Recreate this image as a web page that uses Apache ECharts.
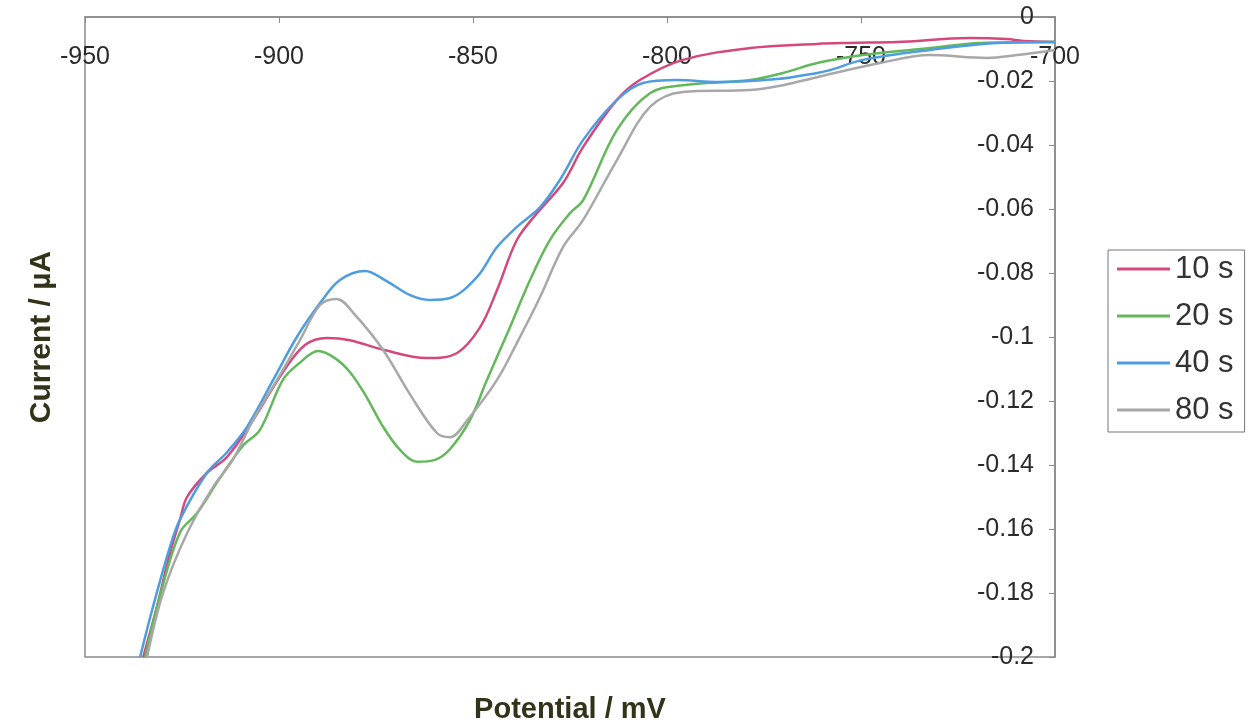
<!DOCTYPE html>
<html>
<head>
<meta charset="utf-8">
<title>Current vs Potential</title>
<script src="https://cdn.jsdelivr.net/npm/echarts@6/dist/echarts.min.js"></script>
<style>
  html, body { margin: 0; padding: 0; background: #fff; }
  #main { width: 1252px; height: 726px; }
</style>
</head>
<body>
<div id="main"></div>
<script>
// series names (legend)
var seriesNames = ['10 s', '20 s', '40 s', '80 s'];

// potential (mV) / current (µA)
var pot10 = [-935.0, -931.4, -928.1, -925.5, -923.7, -918.6, -913.4, -906.7, -899.0, -893.3, -887.6, -881.7, -873.2, -861.9, -854.1, -848.2, -843.8, -838.7, -833.5, -826.8, -821.6, -812.9, -807.0, -795.9, -778.6, -761.3, -752.8, -740.7, -721.9, -712.4, -708.2, -700];
var cur10 = [-0.2, -0.184, -0.1675, -0.157, -0.150, -0.1425, -0.1375, -0.126, -0.111, -0.1025, -0.1003, -0.101, -0.104, -0.1066, -0.105, -0.097, -0.0853, -0.0697, -0.0613, -0.0519, -0.0406, -0.0259, -0.0197, -0.0134, -0.0097, -0.0084, -0.0081, -0.0078, -0.0066, -0.0069, -0.0075, -0.0078];

var pot20 = [-934.5, -930.7, -925.5, -921.1, -915.2, -909.3, -904.9, -899.0, -894.6, -889.9, -885.6, -881.7, -877.8, -873.2, -868.8, -864.4, -859.8, -855.9, -850.8, -846.4, -841.2, -835.3, -830.2, -825.0, -821.6, -812.9, -804.4, -795.9, -778.6, -770.1, -761.3, -749.5, -732.2, -719.3, -700];
var cur20 = [-0.2, -0.181, -0.161, -0.155, -0.144, -0.134, -0.129, -0.1134, -0.108, -0.1044, -0.1066, -0.111, -0.118, -0.128, -0.1353, -0.139, -0.1384, -0.135, -0.126, -0.1134, -0.099, -0.0822, -0.0697, -0.0613, -0.0572, -0.0353, -0.0238, -0.0213, -0.0197, -0.0175, -0.0144, -0.0119, -0.0097, -0.0081, -0.0078];

var pot40 = [-935.8, -932.5, -928.1, -925.5, -918.6, -913.4, -908.2, -901.5, -895.4, -889.4, -884.3, -877.8, -872.7, -866.2, -861.1, -855.9, -849.0, -843.8, -838.7, -832.7, -827.6, -821.6, -812.9, -806.2, -797.4, -787.1, -771.6, -761.3, -758.0, -749.5, -732.2, -714.9, -700];
var cur40 = [-0.2, -0.1844, -0.1656, -0.157, -0.1425, -0.136, -0.128, -0.1134, -0.100, -0.0894, -0.0822, -0.0794, -0.0822, -0.0869, -0.0884, -0.0878, -0.0813, -0.0719, -0.0656, -0.0594, -0.0509, -0.0384, -0.0259, -0.0206, -0.0197, -0.0203, -0.0194, -0.0175, -0.0166, -0.0134, -0.0103, -0.0081, -0.0078];

var pot80 = [-934.0, -929.9, -923.7, -917.0, -911.9, -906.7, -900.5, -894.6, -889.4, -885.1, -880.4, -873.2, -866.2, -859.3, -855.9, -851.5, -843.8, -838.7, -832.7, -826.8, -821.6, -812.9, -804.4, -795.9, -778.6, -770.1, -761.3, -745.1, -732.2, -717.5, -709.8, -700];
var cur80 = [-0.2, -0.18, -0.1613, -0.1469, -0.1384, -0.126, -0.1134, -0.101, -0.090, -0.0881, -0.0931, -0.104, -0.118, -0.130, -0.1313, -0.126, -0.1134, -0.1019, -0.0875, -0.0719, -0.0634, -0.0447, -0.0281, -0.0234, -0.0228, -0.0213, -0.0188, -0.0144, -0.0119, -0.0128, -0.0119, -0.0103];

var colors = ['#d4487e', '#62b85a', '#4d9de0', '#a8a8a8'];

function pairs(xs, ys) {
  var out = [];
  for (var i = 0; i < xs.length; i++) out.push([xs[i], ys[i]]);
  return out;
}

var allData = [pairs(pot10, cur10), pairs(pot20, cur20), pairs(pot40, cur40), pairs(pot80, cur80)];

var font = 'Liberation Sans, Arial, sans-serif';

var option = {
  animation: false,
  backgroundColor: '#fff',
  color: colors,
  grid: {
    left: 85, right: 197, top: 17, bottom: 69,
    outerBoundsMode: 'none',
    show: true,
    borderColor: '#8a8a8a',
    borderWidth: 1.5
  },
  legend: {
    orient: 'vertical',
    left: 1108,
    top: 250,
    data: seriesNames,
    icon: 'rect',
    itemWidth: 53,
    itemHeight: 3,
    itemGap: 13,
    padding: [2, 11, 5, 9],
    borderColor: '#777',
    borderWidth: 1,
    textStyle: { fontFamily: font, fontSize: 31, color: '#333', lineHeight: 34 }
  },
  xAxis: {
    type: 'value',
    position: 'top',
    min: -950,
    max: -700,
    interval: 50,
    name: 'Potential / mV',
    nameLocation: 'middle',
    nameGap: -707,
    nameTextStyle: { fontFamily: font, fontSize: 29, fontWeight: 'bold', color: '#33331a' },
    axisLine: { show: true, lineStyle: { color: '#8a8a8a', width: 1.5 } },
    axisTick: { show: true, inside: true, length: 6, lineStyle: { color: '#8a8a8a' } },
    axisLabel: { inside: true, margin: 28, fontFamily: font, fontSize: 25, color: '#2a2a2a', showMinLabel: true, showMaxLabel: true },
    splitLine: { show: false }
  },
  yAxis: {
    type: 'value',
    position: 'right',
    min: -0.2,
    max: 0,
    interval: 0.02,
    name: 'Current / µA',
    nameLocation: 'middle',
    nameRotate: 90,
    nameGap: -1028,
    nameTextStyle: { fontFamily: font, fontSize: 30, fontWeight: 'bold', color: '#33331a' },
    axisLine: { show: true, lineStyle: { color: '#8a8a8a', width: 1.5 } },
    axisTick: { show: true, inside: true, length: 6, lineStyle: { color: '#8a8a8a' } },
    axisLabel: { inside: true, margin: 21, fontFamily: font, fontSize: 25, color: '#2a2a2a', showMinLabel: true, showMaxLabel: true },
    splitLine: { show: false }
  },
  series: seriesNames.map(function (name, i) {
    return {
      name: name,
      type: 'line',
      data: allData[i],
      smooth: 0.35,
      showSymbol: false,
      symbol: 'none',
      lineStyle: { width: 2.5, color: colors[i] },
      itemStyle: { color: colors[i] }
    };
  })
};

var chart = echarts.init(document.getElementById('main'));
chart.setOption(option);
</script>
</body>
</html>
